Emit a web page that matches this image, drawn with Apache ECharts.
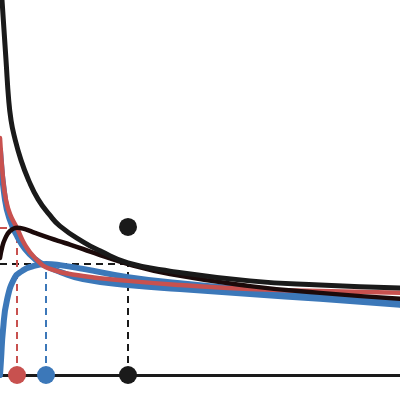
<!DOCTYPE html>
<html>
<head>
<meta charset="utf-8">
<script src="https://cdn.jsdelivr.net/npm/echarts@6/dist/echarts.min.js"></script>
<style>html,body{margin:0;padding:0;background:#fff}#c{width:400px;height:400px}</style>
</head>
<body>
<div id="c"></div>
<script>
// curves: [x, y]
var blackCurve = [[0.0375,10.21],[0.05,10],[0.1,9.2],[0.15,8.4],[0.2175,7.33],[0.275,6.8],[0.35,6.4],[0.525,5.73],[0.725,5.17],[0.95,4.69],[1.225,4.29],[1.5,3.97],[2.075,3.55],[2.5,3.31],[3.2,2.99],[4.25,2.77],[6.25,2.51],[8,2.4],[10,2.32]];
var darkHump = [[0,3.12],[0.05,3.39],[0.125,3.63],[0.25,3.84],[0.425,3.93],[0.625,3.89],[0.875,3.79],[1.25,3.65],[1.625,3.52],[2.075,3.36],[2.5,3.2],[3.2,2.96],[4.25,2.69],[6.25,2.37],[8,2.19],[10,2.03]];
var redCurve = [[0,6.32],[0.075,5.25],[0.15,4.67],[0.25,4.29],[0.425,3.92],[0.625,3.47],[0.875,3.12],[1.25,2.83],[2.075,2.64],[3.2,2.51],[4.5,2.4],[6.25,2.29],[8,2.24],[10,2.19]];
var blueFalling = [[0,6.0],[0.125,4.67],[0.25,4.13],[0.425,3.71],[0.625,3.36],[0.875,3.09],[1.15,2.91],[1.5,2.75],[2.075,2.56],[3.2,2.4],[4.5,2.29],[6.25,2.16],[8,2.03],[10,1.87]];
var blueHump = [[0,0],[0.025,0.4],[0.075,1.2],[0.175,2.0],[0.375,2.61],[0.55,2.77],[0.75,2.88],[1.15,2.96],[1.5,2.93],[2.075,2.83],[3.2,2.61],[4.5,2.45],[6.25,2.27],[8,2.11],[10,1.95]];
// markers
var redX = 0.425, redY = 3.92;
var blueX = 1.15, blueY = 2.96;
var blackX = 3.2, blackY = 2.96;
var blackDotY = 3.95;

var RED = '#c8514f', BLUE = '#3c78b9', BLACK = '#1a1a1a', DARK = '#1c0a0a';

function dashed(data, color) {
  return {type:'line', data:data, showSymbol:false, silent:true, z:1,
    lineStyle:{color:color, width:2, type:[7,5]}};
}
function curve(data, color, width, z) {
  return {type:'line', data:data, showSymbol:false, smooth:0.5, z:z,
    lineStyle:{color:color, width:width, cap:'round', join:'round'}};
}

var chart = echarts.init(document.getElementById('c'), null, {renderer:'canvas'});
chart.setOption({
  animation:false,
  grid:{left:0, right:0, top:0, bottom:25},
  xAxis:{type:'value', min:0, max:10, axisLine:{show:true, lineStyle:{color:BLACK, width:3}},
    axisTick:{show:false}, axisLabel:{show:false}, splitLine:{show:false}},
  yAxis:{type:'value', min:0, max:10, show:false, splitLine:{show:false}},
  series:[
    dashed([[0,blackY],[blackX,blackY]], BLACK),
    dashed([[blackX,0],[blackX,blackY]], BLACK),
    dashed([[blueX,0],[blueX,blueY]], BLUE),
    dashed([[redX,0],[redX,redY]], RED),
    dashed([[0,redY],[redX,redY]], RED),
    curve(blueFalling, BLUE, 6, 2),
    curve(blueHump, BLUE, 6, 3),
    curve(redCurve, RED, 4.5, 4),
    curve(darkHump, DARK, 4.5, 5),
    curve(blackCurve, BLACK, 5, 6),
    {type:'scatter', symbolSize:18, z:10, data:[[redX,0]], itemStyle:{color:RED, opacity:1}},
    {type:'scatter', symbolSize:18, z:10, data:[[blueX,0]], itemStyle:{color:BLUE, opacity:1}},
    {type:'scatter', symbolSize:18, z:10, data:[[blackX,0],[blackX,blackDotY]], itemStyle:{color:BLACK, opacity:1}}
  ]
});
</script>
</body>
</html>
